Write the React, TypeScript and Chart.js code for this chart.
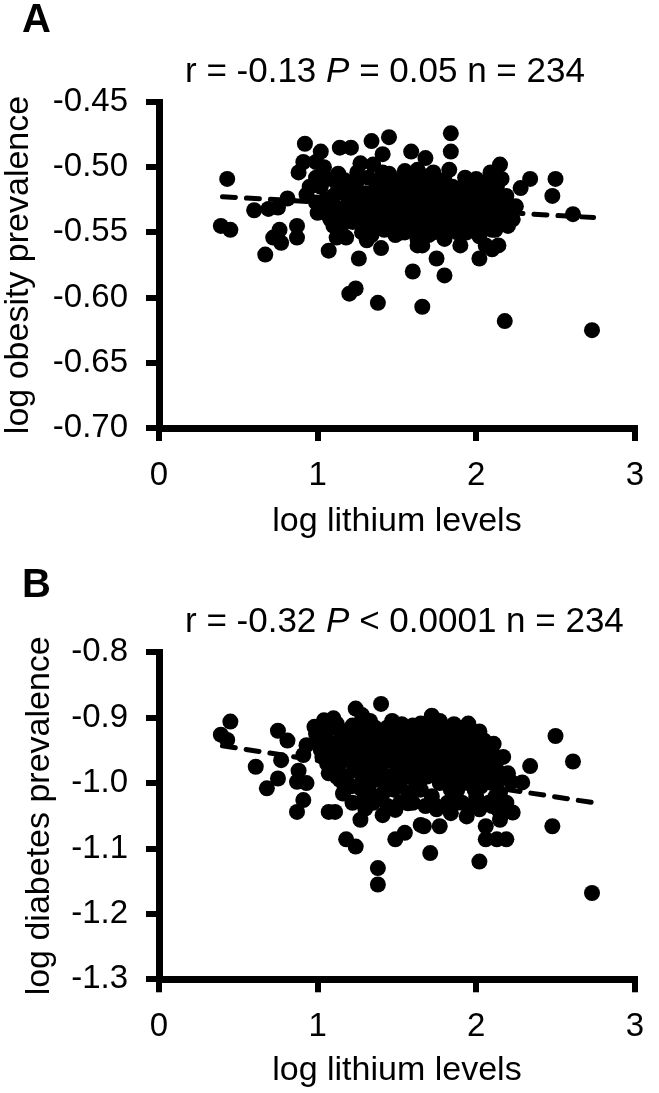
import React, { useEffect, useRef } from "react";
import { Chart, registerables } from "chart.js";

Chart.register(...registerables);

const FONT_FAMILY = "'Liberation Sans', Arial, Helvetica, sans-serif";

// ---------- Panel A : log lithium levels vs log obesity prevalence ----------
const lithiumA: number[] = [
  0.39, 0.45, 0.43, 0.60, 0.67, 0.69, 0.75, 0.76, 0.72, 0.77,
  0.81, 0.87, 0.87, 0.88, 0.92, 0.91, 1.02, 0.99, 0.93, 0.99,
  1.07, 1.14, 1.21, 1.34, 1.45, 1.41, 1.59, 1.20, 1.24, 1.38,
  1.60, 1.66, 1.26, 1.31, 1.40, 1.84, 1.84, 1.83, 1.68, 1.55,
  2.15, 2.09, 2.16, 2.00, 2.34, 2.28, 2.50, 2.48, 2.61, 2.22,
  1.66, 1.90, 1.75, 2.02, 2.10, 2.14, 1.80, 2.18, 2.73,
  1.04, 0.99, 0.95, 1.02, 1.06, 1.12, 1.27, 1.35, 1.25, 1.41,
  1.47, 1.63, 1.18, 1.10, 1.27, 1.37, 1.47, 1.57, 1.06, 1.14,
  1.23, 1.33, 1.43, 1.51, 1.61, 1.10, 1.12, 1.18, 1.39, 1.47,
  1.57, 1.63,
  1.63, 1.73, 1.79, 1.92, 2.06, 2.16, 1.65, 1.75, 1.86, 1.96,
  1.63, 1.71, 1.82, 1.92, 2.02, 2.10, 2.18, 1.63, 1.73, 1.92,
  2.04, 2.12, 2.06,
  1.02, 1.05, 1.08, 1.12, 1.15, 1.17, 1.19, 1.22, 1.24, 1.26,
  1.28, 1.30, 1.32, 1.33, 1.35, 1.36, 1.38, 1.39, 1.41, 1.42,
  1.43, 1.44, 1.45, 1.46, 1.47, 1.48, 1.49, 1.50, 1.51, 1.52,
  1.53, 1.54, 1.55, 1.56, 1.57, 1.58, 1.59, 1.60, 1.61, 1.62,
  1.63, 1.64, 1.65, 1.66, 1.67, 1.68, 1.69, 1.70, 1.70, 1.71,
  1.72, 1.73, 1.74, 1.75, 1.76, 1.77, 1.78, 1.79, 1.80, 1.80,
  1.81, 1.82, 1.83, 1.84, 1.85, 1.86, 1.87, 1.88, 1.89, 1.90,
  1.91, 1.92, 1.93, 1.94, 1.95, 1.96, 1.97, 1.98, 1.99, 2.00,
  2.01, 2.02, 2.03, 2.04, 2.05, 2.06, 2.07, 2.08, 2.09, 2.10,
  2.11, 2.12, 2.13, 2.14, 2.15, 2.17, 2.19, 2.20, 2.21, 2.23,
  2.25, 1.00, 1.03, 1.10, 1.13, 1.16, 1.20, 1.23, 1.27, 1.29,
  1.34, 1.37, 1.40, 1.44, 1.47, 1.53, 1.58, 1.64, 1.68, 1.72,
];

const obesityA: number[] = [
  -0.545, -0.548, -0.509, -0.533, -0.567, -0.532, -0.531, -0.548, -0.554, -0.558,
  -0.524, -0.545, -0.554, -0.504, -0.482, -0.496, -0.488, -0.496, -0.521, -0.527,
  -0.564, -0.485, -0.485, -0.480, -0.477, -0.490, -0.488, -0.597, -0.593, -0.604,
  -0.580, -0.607, -0.570, -0.556, -0.562, -0.474, -0.488, -0.502, -0.493, -0.503,
  -0.498, -0.504, -0.509, -0.509, -0.509, -0.516, -0.509, -0.522, -0.536, -0.530,
  -0.560, -0.560, -0.570, -0.570, -0.563, -0.560, -0.583, -0.618, -0.625,
  -0.500, -0.508, -0.515, -0.530, -0.509, -0.512, -0.497, -0.498, -0.504, -0.504,
  -0.512, -0.515, -0.520, -0.522, -0.525, -0.527, -0.522, -0.525, -0.536, -0.532,
  -0.535, -0.537, -0.540, -0.537, -0.540, -0.545, -0.554, -0.554, -0.546, -0.545,
  -0.548, -0.560,
  -0.502, -0.504, -0.512, -0.515, -0.522, -0.525, -0.522, -0.525, -0.527, -0.527,
  -0.537, -0.537, -0.535, -0.537, -0.537, -0.537, -0.532, -0.548, -0.550, -0.548,
  -0.545, -0.548, -0.560,
  -0.515, -0.525, -0.540, -0.520, -0.545, -0.510, -0.528, -0.542, -0.515, -0.535,
  -0.550, -0.520, -0.508, -0.530, -0.545, -0.518, -0.535, -0.512, -0.528, -0.548,
  -0.520, -0.535, -0.505, -0.543, -0.530, -0.515, -0.552, -0.525, -0.510, -0.540,
  -0.530, -0.518, -0.550, -0.533, -0.512, -0.545, -0.525, -0.538, -0.508, -0.528,
  -0.555, -0.532, -0.512, -0.545, -0.522, -0.538, -0.507, -0.530, -0.552, -0.518,
  -0.542, -0.527, -0.513, -0.548, -0.535, -0.520, -0.540, -0.528, -0.510, -0.555,
  -0.538, -0.522, -0.545, -0.530, -0.515, -0.540, -0.525, -0.550, -0.533, -0.518,
  -0.543, -0.530, -0.508, -0.550, -0.537, -0.520, -0.545, -0.530, -0.515, -0.540,
  -0.525, -0.553, -0.533, -0.517, -0.545, -0.530, -0.512, -0.540, -0.525, -0.548,
  -0.520, -0.535, -0.515, -0.543, -0.528, -0.538, -0.522, -0.545, -0.535, -0.540,
  -0.530, -0.535, -0.505, -0.530, -0.505, -0.535, -0.512, -0.525, -0.508, -0.540,
  -0.552, -0.525, -0.540, -0.512, -0.548, -0.550, -0.520, -0.520, -0.548, -0.510,
];

const fitLithiumA: number[] = [0.40, 2.74];
const fitObesityA: number[] = [-0.5226, -0.5386];
const yTicksA: number[] = [-0.70, -0.65, -0.60, -0.55, -0.50, -0.45];

// ---------- Panel B : log lithium levels vs log diabetes prevalence ----------
const lithiumB: number[] = [
  0.45, 0.39, 0.43, 0.61, 0.75, 0.81, 0.77, 0.68, 0.75, 0.88,
  0.87, 0.93, 0.91, 0.87, 1.07, 1.11, 1.24, 1.40, 1.28, 0.98,
  1.04, 1.10, 1.12, 0.99, 0.93, 0.91, 1.02, 1.06, 1.14, 1.25,
  1.33, 1.41, 1.47, 1.55, 1.14, 1.23, 1.16, 1.27, 1.37, 1.41,
  1.30, 1.41, 1.49, 1.57, 1.25, 1.33, 1.41, 1.49, 1.53, 1.08,
  1.18, 1.18, 1.24, 1.38, 1.38, 1.27, 1.49, 1.55, 1.65, 2.50,
  2.61, 2.34, 2.29, 2.48, 2.73, 1.71, 2.02, 2.06, 2.13, 2.19,
  2.06, 1.67, 1.77, 2.23, 2.15, 2.10, 2.12, 2.02, 1.99, 1.95,
  1.83, 1.90, 1.71, 1.95, 1.88, 2.00, 2.12, 2.14, 1.94, 1.84,
  1.73, 2.04, 2.14, 2.22, 1.72, 1.65, 1.57, 1.79,
  1.00, 1.03, 1.05, 1.07, 1.09, 1.11, 1.13, 1.15, 1.16, 1.18,
  1.19, 1.20, 1.21, 1.22, 1.23, 1.24, 1.26, 1.27, 1.28, 1.29,
  1.30, 1.31, 1.32, 1.33, 1.34, 1.35, 1.36, 1.37, 1.38, 1.39,
  1.40, 1.41, 1.42, 1.43, 1.44, 1.45, 1.46, 1.47, 1.48, 1.49,
  1.50, 1.51, 1.52, 1.53, 1.54, 1.55, 1.56, 1.57, 1.58, 1.59,
  1.60, 1.61, 1.62, 1.63, 1.64, 1.65, 1.66, 1.67, 1.68, 1.69,
  1.70, 1.71, 1.72, 1.73, 1.74, 1.75, 1.76, 1.77, 1.78, 1.79,
  1.80, 1.81, 1.82, 1.83, 1.84, 1.85, 1.86, 1.87, 1.88, 1.89,
  1.90, 1.91, 1.92, 1.93, 1.94, 1.95, 1.96, 1.97, 1.98, 1.99,
  2.00, 2.01, 2.02, 2.03, 2.04, 2.05, 2.06, 2.07, 2.08, 2.09,
  2.10, 2.11, 2.13, 2.15, 2.17, 2.19, 2.20, 1.10, 1.06, 1.12,
  1.17, 1.22, 1.29, 1.35, 1.44, 1.52, 1.60, 1.68, 1.75, 1.82,
  1.87, 1.96, 2.02, 2.10, 1.47, 1.53, 1.60, 1.68, 1.77, 1.86,
  1.92, 1.45, 1.33, 1.50, 1.64, 1.78,
];

const diabetesB: number[] = [
  -0.906, -0.926, -0.934, -0.975, -0.920, -0.935, -0.965, -1.008, -0.993, -0.981,
  -0.998, -1.000, -1.026, -1.044, -1.044, -1.044, -0.886, -0.879, -0.896, -0.914,
  -0.904, -0.901, -0.909, -0.924, -0.942, -0.957, -0.949, -0.970, -0.934, -0.916,
  -0.924, -0.924, -0.924, -0.924, -0.995, -0.980, -1.016, -1.008, -0.995, -1.016,
  -1.039, -1.049, -1.041, -1.031, -0.954, -0.949, -0.965, -0.954, -0.980, -0.949,
  -0.960, -1.086, -1.097, -1.130, -1.155, -1.056, -1.086, -1.076, -1.064, -0.928,
  -0.967, -0.974, -0.999, -1.066, -1.168, -1.107, -1.120, -1.086, -1.086, -1.086,
  -1.066, -1.066, -1.066, -1.045, -1.056, -0.954, -0.967, -0.921, -0.926, -0.909,
  -0.921, -0.937, -0.911, -0.967, -1.011, -1.021, -1.021, -1.041, -1.051, -1.046,
  -1.031, -0.985, -0.995, -0.998, -0.897, -0.909, -0.919, -0.939,
  -0.935, -0.960, -0.925, -0.985, -0.915, -0.955, -0.975, -0.920, -0.945, -0.990,
  -0.930, -0.965, -1.005, -0.912, -0.945, -0.975, -0.930, -0.960, -0.990, -0.915,
  -0.945, -0.975, -1.010, -0.935, -0.960, -0.990, -0.915, -0.945, -0.970, -1.020,
  -0.935, -0.985, -0.950, -1.000, -0.915, -0.965, -0.990, -0.940, -1.010, -0.925,
  -0.975, -0.955, -1.000, -0.935, -0.965, -0.990, -0.945, -1.015, -0.925, -0.970,
  -0.950, -0.995, -0.935, -0.980, -0.960, -1.010, -0.930, -0.970, -0.945, -0.990,
  -0.920, -0.960, -1.020, -0.940, -0.980, -0.915, -0.955, -1.000, -0.930, -0.970,
  -0.945, -0.990, -0.915, -0.960, -1.010, -0.935, -0.975, -0.950, -0.990, -0.925,
  -0.965, -1.030, -0.945, -0.985, -0.925, -1.000, -0.950, -0.975, -0.940, -1.010,
  -0.960, -0.990, -0.945, -1.005, -0.965, -0.935, -0.995, -0.955, -1.030, -0.975,
  -1.000, -0.940, -0.980, -1.015, -0.960, -1.030, -0.985, -0.975, -0.935, -0.990,
  -1.010, -1.030, -1.025, -1.030, -1.035, -1.030, -1.030, -1.035, -1.040, -1.030,
  -1.030, -1.035, -1.040, -1.035, -0.905, -0.910, -0.912, -0.915, -0.905, -0.910,
  -0.915, -0.945, -0.905, -0.990, -1.000, -0.985,
];

const fitLithiumB: number[] = [0.40, 2.74];
const fitDiabetesB: number[] = [-0.943, -1.030];
const yTicksB: number[] = [-1.3, -1.2, -1.1, -1.0, -0.9, -0.8];

const xTicks: number[] = [0, 1, 2, 3];

type PanelSpec = {
  xs: number[];
  ys: number[];
  fitX: number[];
  fitY: number[];
  yTicks: number[];
  decimals: number;
  yTitle: string;
  padTop: number;
  xScaleHeight: number;
  xTitlePadBottom: number;
  yTitlePadLeft: number;
};

function buildConfig(s: PanelSpec): any {
  const tickFont = { family: FONT_FAMILY, size: 33, lineHeight: 1.2 };
  const titleFont = { family: FONT_FAMILY, size: 34, lineHeight: 1.1 };
  const gridOpts = {
    display: true,
    drawOnChartArea: false,
    drawTicks: true,
    tickLength: 13,
    tickWidth: 6,
    tickColor: "#000",
    color: "#000",
    lineWidth: 6,
  };
  return {
    type: "scatter",
    data: {
      datasets: [
        {
          data: s.xs.map((x, i) => ({ x, y: s.ys[i] })),
          pointRadius: 8,
          pointHoverRadius: 8,
          pointBackgroundColor: "#000",
          pointBorderWidth: 0,
          borderColor: "#000",
          order: 0,
        },
        {
          type: "line",
          data: s.fitX.map((x, i) => ({ x, y: s.fitY[i] })),
          showLine: true,
          borderColor: "#000",
          borderWidth: 5,
          borderDash: [13, 11],
          borderCapStyle: "round",
          pointRadius: 0,
          fill: false,
          order: 1,
        },
      ],
    },
    options: {
      animation: false,
      responsive: false,
      devicePixelRatio: 1,
      events: [],
      layout: { padding: { top: s.padTop, left: 0, right: 9, bottom: 0 } },
      plugins: {
        legend: { display: false },
        tooltip: { enabled: false },
        title: { display: false },
      },
      scales: {
        x: {
          type: "linear",
          min: 0,
          max: 3,
          afterBuildTicks: (scale: any) => {
            scale.ticks = xTicks.map((v) => ({ value: v }));
          },
          afterFit: (scale: any) => {
            scale.height = s.xScaleHeight;
          },
          ticks: {
            color: "#000",
            font: tickFont,
            padding: 15,
            callback: (v: any) => String(v),
          },
          grid: gridOpts,
          border: { display: true, color: "#000", width: 7 },
          title: {
            display: true,
            text: "log lithium levels",
            color: "#000",
            font: titleFont,
            padding: { top: 0, bottom: s.xTitlePadBottom },
          },
        },
        y: {
          type: "linear",
          min: s.yTicks[0],
          max: s.yTicks[s.yTicks.length - 1],
          afterBuildTicks: (scale: any) => {
            scale.ticks = s.yTicks.map((v) => ({ value: v }));
          },
          afterFit: (scale: any) => {
            scale.width = 159;
          },
          ticks: {
            color: "#000",
            font: tickFont,
            padding: 18,
            callback: (v: any) => Number(v).toFixed(s.decimals),
          },
          grid: gridOpts,
          border: { display: true, color: "#000", width: 7 },
          title: {
            display: true,
            text: s.yTitle,
            color: "#000",
            font: titleFont,
            padding: { top: s.yTitlePadLeft, bottom: 0 },
          },
        },
      },
    },
  };
}

const specA: PanelSpec = {
  xs: lithiumA,
  ys: obesityA,
  fitX: fitLithiumA,
  fitY: fitObesityA,
  yTicks: yTicksA,
  decimals: 2,
  yTitle: "log obesity prevalence",
  padTop: 102,
  xScaleHeight: 118,
  xTitlePadBottom: 6,
  yTitlePadLeft: 0,
};

const specB: PanelSpec = {
  xs: lithiumB,
  ys: diabetesB,
  fitX: fitLithiumB,
  fitY: fitDiabetesB,
  yTicks: yTicksB,
  decimals: 1,
  yTitle: "log diabetes prevalence",
  padTop: 106.3,
  xScaleHeight: 113.7,
  xTitlePadBottom: 4,
  yTitlePadLeft: 21,
};

const letterStyle: React.CSSProperties = {
  position: "absolute",
  left: 22,
  fontSize: 40,
  fontWeight: "bold",
  lineHeight: 1,
  fontFamily: FONT_FAMILY,
  color: "#000",
};

const statStyle: React.CSSProperties = {
  position: "absolute",
  left: 185,
  fontSize: 35,
  lineHeight: 1,
  whiteSpace: "nowrap",
  fontFamily: FONT_FAMILY,
  color: "#000",
};

export default function App() {
  const refA = useRef<HTMLCanvasElement | null>(null);
  const refB = useRef<HTMLCanvasElement | null>(null);

  useEffect(() => {
    document.body.style.margin = "0";
    const charts: Chart[] = [];
    if (refA.current) charts.push(new Chart(refA.current, buildConfig(specA)));
    if (refB.current) charts.push(new Chart(refB.current, buildConfig(specB)));
    return () => {
      charts.forEach((c) => c.destroy());
    };
  }, []);

  return (
    <div style={{ position: "relative", width: 659, height: 1093, background: "#fff" }}>
      <canvas
        ref={refA}
        width={659}
        height={546}
        style={{ position: "absolute", left: 0, top: 0, width: 659, height: 546 }}
      />
      <canvas
        ref={refB}
        width={659}
        height={547}
        style={{ position: "absolute", left: 0, top: 546, width: 659, height: 547 }}
      />
      <div style={{ ...letterStyle, top: -2 }}>A</div>
      <div style={{ ...statStyle, top: 52 }}>
        r = -0.13 <i>P</i> = 0.05 n = 234
      </div>
      <div style={{ ...letterStyle, top: 563 }}>B</div>
      <div style={{ ...statStyle, top: 602 }}>
        r = -0.32 <i>P</i> &lt; 0.0001 n = 234
      </div>
    </div>
  );
}
